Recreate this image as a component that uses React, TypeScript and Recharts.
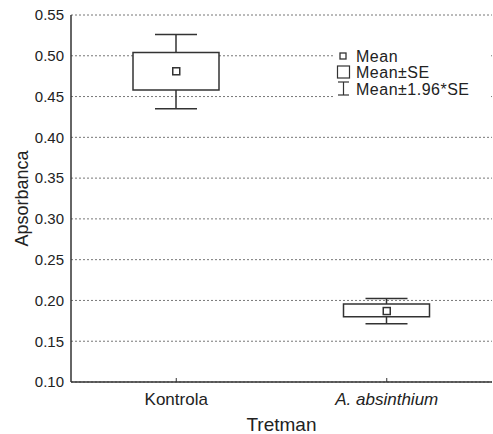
import {
  ComposedChart,
  Bar,
  Line,
  XAxis,
  YAxis,
  CartesianGrid,
} from "recharts";

const categories = ["Kontrola", "A. absinthium"];
const means = [0.481, 0.187];
const seLow = [0.458, 0.18];
const seHigh = [0.504, 0.1955];
const ciLow = [0.435, 0.1715];
const ciHigh = [0.526, 0.2025];
const yTicks = [0.1, 0.15, 0.2, 0.25, 0.3, 0.35, 0.4, 0.45, 0.5, 0.55];

const data = categories.map((name, i) => ({
  name,
  mean: means[i],
  se: [seLow[i], seHigh[i]],
  ci: [ciLow[i], ciHigh[i]],
}));

const INK = "#333";
const FONT = "'Liberation Sans', Arial, sans-serif";

// whisker: vertical line plus caps over the full bar range
const Whisker = (props: any) => {
  const { x, y, width, height } = props;
  const cx = x + width / 2;
  return (
    <g stroke={INK} strokeWidth={1.5}>
      <line x1={cx} y1={y} x2={cx} y2={y + height} />
      <line x1={x} y1={y} x2={x + width} y2={y} />
      <line x1={x} y1={y + height} x2={x + width} y2={y + height} />
    </g>
  );
};

const MeanDot = (props: any) => {
  const { cx, cy } = props;
  if (cx == null || cy == null) return null;
  return (
    <rect
      x={cx - 3.5}
      y={cy - 3.5}
      width={7}
      height={7}
      fill="#fff"
      stroke={INK}
      strokeWidth={1.5}
    />
  );
};

const CatTick = (props: any) => {
  const { x, y, payload } = props;
  const italic = payload.value === "A. absinthium";
  return (
    <g>
      <line x1={x} y1={y} x2={x} y2={y - 4} stroke={INK} />
      <text
        x={x}
        y={y + 23}
        textAnchor="middle"
        fontSize={17}
        fontStyle={italic ? "italic" : "normal"}
        fill="#222"
        fontFamily={FONT}
      >
        {payload.value}
      </text>
    </g>
  );
};

const Legend = () => (
  <svg
    width={493}
    height={434}
    style={{ position: "absolute", left: 0, top: 0, pointerEvents: "none" }}
    fontFamily={FONT}
  >
    <rect x={333} y={46} width={156} height={54} fill="#fff" />
    <rect x={340} y={53} width={6} height={6} fill="#fff" stroke={INK} strokeWidth={1.3} />
    <rect x={337.5} y={66} width={12} height={12} fill="#fff" stroke={INK} strokeWidth={1.2} />
    <g stroke={INK} strokeWidth={1.2}>
      <line x1={343.5} y1={82} x2={343.5} y2={95} />
      <line x1={338} y1={82} x2={349} y2={82} />
      <line x1={338} y1={95} x2={349} y2={95} />
    </g>
    <g fontSize={16} fill="#222" letterSpacing={0.5}>
      <text x={356} y={61.5}>Mean</text>
      <text x={356} y={78}>Mean±SE</text>
      <text x={356} y={94.5}>Mean±1.96*SE</text>
    </g>
  </svg>
);

export default function App() {
  return (
    <div style={{ position: "absolute", left: 0, top: 0, width: 493, height: 434, background: "#fff" }}>
      <ComposedChart
        width={493}
        height={434}
        data={data}
        margin={{ top: 15, right: 1, bottom: 0, left: 0 }}
        style={{ fontFamily: FONT }}
      >
        <CartesianGrid
          vertical={false}
          stroke="#777"
          strokeDasharray="2 2"
          yAxisId="left"
        />
        <XAxis
          xAxisId="main"
          dataKey="name"
          axisLine={{ stroke: INK, strokeWidth: 1.5 }}
          tickLine={false}
          tickSize={0}
          tickMargin={0}
          tick={<CatTick />}
          height={52}
          label={{
            value: "Tretman",
            position: "insideBottom",
            offset: 3,
            fontSize: 19,
            fill: "#222",
          }}
        />
        <XAxis
          xAxisId="top"
          dataKey="name"
          orientation="top"
          height={0}
          mirror
          tickSize={3}
          tickFormatter={() => ""}
          axisLine={{ stroke: INK, strokeWidth: 1.5 }}
          tickLine={{ stroke: INK }}
        />
        <YAxis
          yAxisId="left"
          domain={[0.1, 0.55]}
          ticks={yTicks}
          width={71}
          tickSize={0}
          tickMargin={7}
          tickFormatter={(v: number) => v.toFixed(2)}
          tick={{ fontSize: 15, fill: "#222" }}
          axisLine={{ stroke: INK, strokeWidth: 1.5 }}
          label={{
            value: "Apsorbanca",
            angle: -90,
            position: "insideLeft",
            offset: 22,
            style: { textAnchor: "middle", fontSize: 18, fill: "#222" },
          }}
        />
        <YAxis
          yAxisId="right"
          orientation="right"
          domain={[0.1, 0.55]}
          ticks={yTicks}
          width={0}
          mirror
          tickSize={3}
          tickFormatter={() => ""}
          axisLine={{ stroke: INK, strokeWidth: 1.5 }}
          tickLine={{ stroke: INK }}
        />
        <Bar
          xAxisId="top"
          yAxisId="left"
          dataKey="ci"
          barSize={42}
          shape={<Whisker />}
          isAnimationActive={false}
        />
        <Bar
          xAxisId="main"
          yAxisId="left"
          dataKey="se"
          barSize={86}
          fill="#fff"
          stroke={INK}
          strokeWidth={1.5}
          isAnimationActive={false}
        />
        <Line
          xAxisId="main"
          yAxisId="left"
          dataKey="mean"
          stroke="none"
          dot={<MeanDot />}
          activeDot={false}
          isAnimationActive={false}
        />
      </ComposedChart>
      <Legend />
    </div>
  );
}
